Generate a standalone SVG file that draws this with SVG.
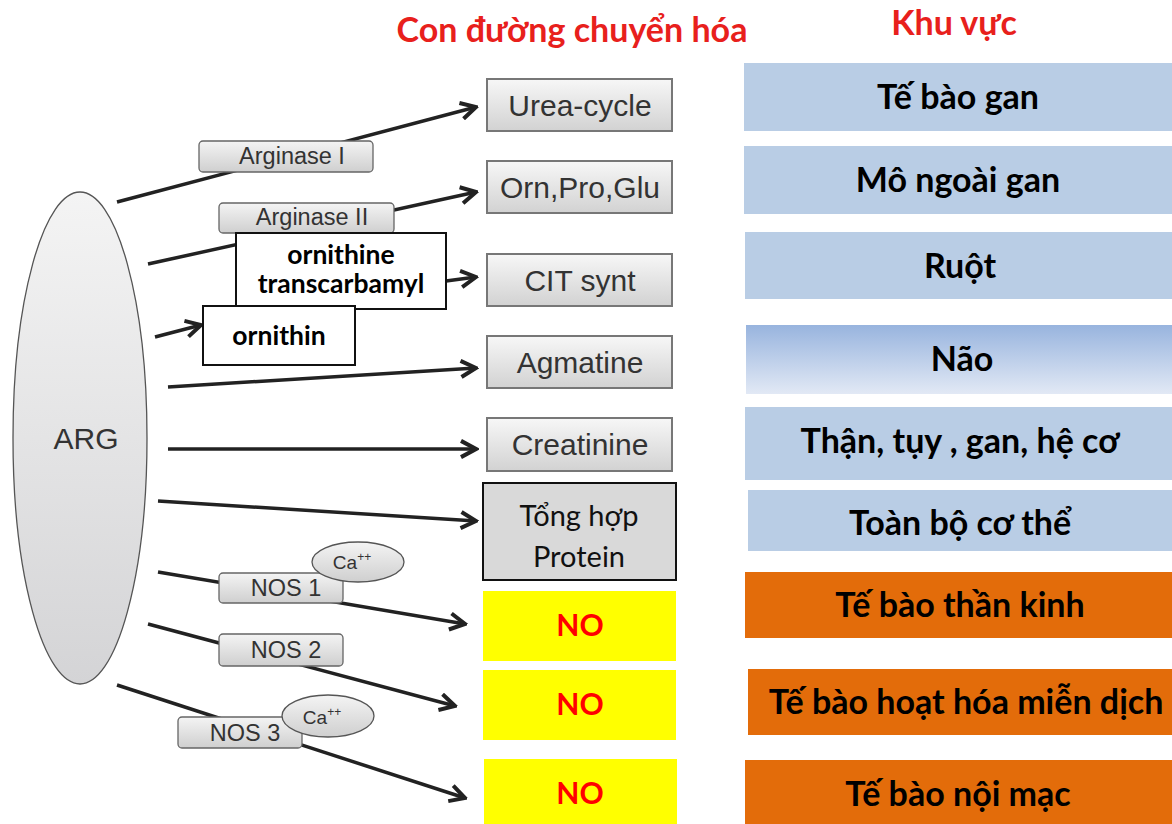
<svg xmlns="http://www.w3.org/2000/svg" width="1172" height="824" viewBox="0 0 1172 824">
<defs>
<linearGradient id="gBox" x1="0" y1="0" x2="0" y2="1"><stop offset="0" stop-color="#f7f7f7"/><stop offset="1" stop-color="#d2d2d2"/></linearGradient>
<linearGradient id="gLab" x1="0" y1="0" x2="0" y2="1"><stop offset="0" stop-color="#f4f4f4"/><stop offset="1" stop-color="#cfcfcf"/></linearGradient>
<linearGradient id="gArg" x1="0" y1="0" x2="0" y2="1"><stop offset="0" stop-color="#f4f4f4"/><stop offset="1" stop-color="#d4d4d6"/></linearGradient>
<linearGradient id="gNao" x1="0" y1="0" x2="0" y2="1"><stop offset="0" stop-color="#98b4de"/><stop offset="1" stop-color="#e2e9f5"/></linearGradient>
<marker id="ah" markerUnits="userSpaceOnUse" markerWidth="20" markerHeight="20" refX="14" refY="8" orient="auto" viewBox="0 0 16 16"><path d="M2,1.5 L14,8 L2,14.5" fill="none" stroke="#222" stroke-width="3.2" stroke-linejoin="miter"/></marker>
</defs>
<style>
.title{font-family:Lato,"Liberation Sans",sans-serif;font-weight:bold;font-size:34px;fill:#e8201c;text-anchor:middle}
.pw{fill:url(#gBox);stroke:#777;stroke-width:2}
.pwt{font-family:"Liberation Sans",Arial,sans-serif;font-size:30px;fill:#333;text-anchor:middle}
.lab{fill:url(#gLab);stroke:#666;stroke-width:1.3}
.labt{font-family:"Liberation Sans",Arial,sans-serif;font-size:23.5px;fill:#333;text-anchor:middle}
.ca{fill:url(#gLab);stroke:#555;stroke-width:1.3}
.cat{font-family:"Liberation Sans",Arial,sans-serif;font-size:19px;fill:#333;text-anchor:middle}
.wb{fill:#fff;stroke:#111;stroke-width:2}
.wbt{font-family:Lato,"Liberation Sans",sans-serif;font-weight:bold;font-size:26.5px;fill:#000;text-anchor:middle}
.no{fill:#ffff00}
.not{font-family:Lato,"Liberation Sans",sans-serif;font-weight:bold;font-size:30px;fill:#ff0000;text-anchor:middle}
.blue{fill:#b9cde5}
.orange{fill:#e36c0a}
.rt{font-family:Lato,"Liberation Sans",sans-serif;font-weight:bold;font-size:34px;fill:#000;text-anchor:middle}
.con{fill:none;stroke:#222;stroke-width:3.5;marker-end:url(#ah)}
</style>
<rect width="1172" height="824" fill="#fff"/>
<text class="title" x="572" y="42">Con đường chuyển hóa</text>
<text class="title" x="954" y="35">Khu vực</text>

<g id="connectors">
<path class="con" d="M117,202 L476,107"/>
<path class="con" d="M148,264 L476,192"/>
<path class="con" d="M446,281 L476,277"/>
<path class="con" d="M155,337 L201,325"/>
<path class="con" d="M168,387 L476,368"/>
<path class="con" d="M168,449 L476,449"/>
<path class="con" d="M158,501 L476,521"/>
<path class="con" d="M158,572 L465,624"/>
<path class="con" d="M148,624 L455,706"/>
<path class="con" d="M117,685 L465,798"/>
</g>

<g id="arg"><ellipse cx="80" cy="438" rx="67" ry="246" fill="url(#gArg)" stroke="#555" stroke-width="1.3"/><text x="86" y="449" font-family="Liberation Sans, Arial, sans-serif" font-size="30" fill="#333" text-anchor="middle">ARG</text></g>

<g id="arginase1"><rect class="lab" x="199" y="141" width="174" height="31" rx="4"/><text class="labt" x="292" y="164">Arginase I</text></g>
<g id="arginase2"><rect class="lab" x="219" y="203" width="175" height="30" rx="4"/><text class="labt" x="312" y="225">Arginase II</text></g>
<g id="otc"><rect class="wb" x="236" y="233" width="210" height="76"/><text class="wbt" x="341" y="264">ornithine</text><text class="wbt" x="341" y="293">transcarbamyl</text></g>
<g id="ornithin"><rect class="wb" x="203" y="306" width="152" height="59"/><text class="wbt" x="279" y="345" font-size="30">ornithin</text></g>
<g id="nos1"><rect class="lab" x="219" y="573" width="124" height="30" rx="4"/><text class="labt" x="286" y="596">NOS 1</text></g>
<g id="ca1"><ellipse class="ca" cx="358" cy="562" rx="46" ry="20"/><text class="cat" x="352" y="569">Ca<tspan font-size="12" dy="-8">++</tspan></text></g>
<g id="nos2"><rect class="lab" x="219" y="634" width="124" height="32" rx="4"/><text class="labt" x="286" y="658">NOS 2</text></g>
<g id="nos3"><rect class="lab" x="178" y="717" width="124" height="31" rx="4"/><text class="labt" x="245" y="741">NOS 3</text></g>
<g id="ca2"><ellipse class="ca" cx="328" cy="716" rx="46" ry="21"/><text class="cat" x="322" y="724">Ca<tspan font-size="12" dy="-8">++</tspan></text></g>

<g id="urea"><rect class="pw" x="487" y="79" width="185" height="52"/><text class="pwt" x="580" y="116">Urea-cycle</text></g>
<g id="orn"><rect class="pw" x="487" y="161" width="185" height="52"/><text class="pwt" x="580" y="198">Orn,Pro,Glu</text></g>
<g id="cit"><rect class="pw" x="487" y="254" width="185" height="52"/><text class="pwt" x="580" y="291">CIT synt</text></g>
<g id="agm"><rect class="pw" x="487" y="336" width="185" height="52"/><text class="pwt" x="580" y="373">Agmatine</text></g>
<g id="crea"><rect class="pw" x="487" y="418" width="185" height="53"/><text class="pwt" x="580" y="455">Creatinine</text></g>
<g id="protein"><rect x="483" y="483" width="193" height="97" fill="#d9d9d9" stroke="#111" stroke-width="2"/><text x="579" y="526" font-family="Lato, Liberation Sans, sans-serif" font-size="29" fill="#111" text-anchor="middle">Tổng hợp</text><text x="579" y="567" font-family="Lato, Liberation Sans, sans-serif" font-size="29" fill="#111" text-anchor="middle">Protein</text></g>
<g id="no1"><rect class="no" x="483" y="591" width="193" height="70"/><text class="not" x="580" y="636">NO</text></g>
<g id="no2"><rect class="no" x="483" y="670" width="193" height="70"/><text class="not" x="580" y="715">NO</text></g>
<g id="no3"><rect class="no" x="484" y="759" width="193" height="65"/><text class="not" x="580" y="804">NO</text></g>

<g id="r1"><rect class="blue" x="744" y="63" width="428" height="68"/><text class="rt" x="958" y="109">Tế bào gan</text></g>
<g id="r2"><rect class="blue" x="744" y="146" width="428" height="68"/><text class="rt" x="958" y="192">Mô ngoài gan</text></g>
<g id="r3"><rect class="blue" x="745" y="232" width="427" height="67"/><text class="rt" x="960" y="278">Ruột</text></g>
<g id="r4"><rect x="746" y="325" width="426" height="69" fill="url(#gNao)"/><text class="rt" x="962" y="371">Não</text></g>
<g id="r5"><rect class="blue" x="745" y="407" width="427" height="73"/><text class="rt" x="960" y="453">Thận, tụy , gan, hệ cơ</text></g>
<g id="r6"><rect class="blue" x="748" y="490" width="424" height="61"/><text class="rt" x="960" y="535">Toàn bộ cơ thể</text></g>
<g id="r7"><rect class="orange" x="745" y="572" width="427" height="66"/><text class="rt" x="960" y="617">Tế bào thần kinh</text></g>
<g id="r8"><rect class="orange" x="748" y="669" width="424" height="66"/><text class="rt" x="966" y="714">Tế bào hoạt hóa miễn dịch</text></g>
<g id="r9"><rect class="orange" x="745" y="760" width="427" height="64"/><text class="rt" x="958" y="806">Tế bào nội mạc</text></g>
</svg>
